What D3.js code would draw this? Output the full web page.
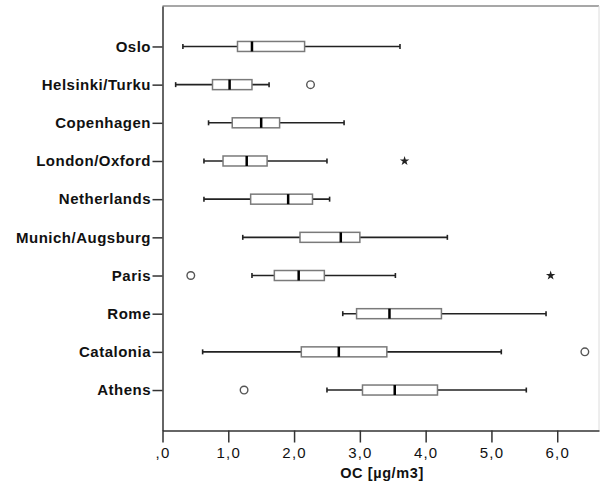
<!DOCTYPE html>
<html>
<head>
<meta charset="utf-8">
<script src="https://cdn.jsdelivr.net/npm/d3@7"></script>
<style>
  body { margin: 0; background: #fff; }
  svg { display: block; font-family: "Liberation Sans", Arial, sans-serif; }
</style>
</head>
<body>
<div id="chart"></div>
<script>
const cities = ['Oslo', 'Helsinki/Turku', 'Copenhagen', 'London/Oxford', 'Netherlands',
  'Munich/Augsburg', 'Paris', 'Rome', 'Catalonia', 'Athens'];
const whiskerLow  = [0.31, 0.20, 0.70, 0.63, 0.63, 1.22, 1.36, 2.74, 0.61, 2.50];
const q1          = [1.14, 0.76, 1.06, 0.92, 1.34, 2.09, 1.70, 2.95, 2.11, 3.04];
const medians     = [1.36, 1.02, 1.50, 1.28, 1.91, 2.71, 2.07, 3.45, 2.68, 3.53];
const q3          = [2.16, 1.36, 1.78, 1.59, 2.28, 3.00, 2.46, 4.24, 3.41, 4.18];
const whiskerHigh = [3.61, 1.62, 2.76, 2.50, 2.54, 4.33, 3.54, 5.83, 5.15, 5.53];

// outliers: circles (mild) and stars (extreme)
const circleOutliers = [['Helsinki/Turku', 2.25], ['Paris', 0.43], ['Catalonia', 6.42], ['Athens', 1.24]];
const starOutliers = [['London/Oxford', 3.68], ['Paris', 5.90]];

const tickValues = [0, 1, 2, 3, 4, 5, 6];
const tickLabels = [',0', '1,0', '2,0', '3,0', '4,0', '5,0', '6,0'];
const xTitle = 'OC [µg/m3]';

const rows = cities.map((c, i) => ({
  city: c, lo: whiskerLow[i], q1: q1[i], med: medians[i], q3: q3[i], hi: whiskerHigh[i]
}));

const W = 601, H = 497;
const plotLeft = 162.5, plotRight = 599, plotTop = 6, plotBottom = 430.5;

const x = d3.scaleLinear().domain([0, 6.635]).range([plotLeft, plotRight]);
const y = d3.scalePoint().domain(cities).range([plotTop, plotBottom]).padding(1.06);

const svg = d3.select('#chart').append('svg')
  .attr('width', W)
  .attr('height', H);

// frame top / right
svg.append('line')
  .attr('x1', plotLeft).attr('x2', plotRight).attr('y1', plotTop).attr('y2', plotTop)
  .attr('stroke', '#8a8a8a').attr('stroke-width', 1.5);
svg.append('line')
  .attr('x1', plotRight).attr('x2', plotRight).attr('y1', plotTop).attr('y2', plotBottom)
  .attr('stroke', '#dcdcdc').attr('stroke-width', 1);

// x axis
const xAxis = svg.append('g')
  .attr('transform', 'translate(0,' + plotBottom + ')')
  .call(d3.axisBottom(x).tickValues(tickValues).tickFormat((d, i) => tickLabels[i]).tickSize(12).tickSizeOuter(0).tickPadding(5));
xAxis.select('.domain').attr('stroke', '#333').attr('stroke-width', 1.5);
xAxis.selectAll('line').attr('stroke', '#333').attr('stroke-width', 1.5);
xAxis.selectAll('text').attr('font-size', 15).attr('fill', '#111')
  .attr('letter-spacing', 1.2)
  .attr('font-family', '"Liberation Sans", Arial, sans-serif');

// y axis
const yAxis = svg.append('g')
  .attr('transform', 'translate(' + plotLeft + ',0)')
  .call(d3.axisLeft(y).tickSize(10).tickSizeOuter(0).tickPadding(1.5));
yAxis.select('.domain').attr('stroke', '#333').attr('stroke-width', 1.5);
yAxis.selectAll('line').attr('stroke', '#333').attr('stroke-width', 1.5);
yAxis.selectAll('text').attr('font-size', 15).attr('font-weight', 'bold').attr('fill', '#111')
  .attr('letter-spacing', 0.5)
  .attr('font-family', '"Liberation Sans", Arial, sans-serif');

// axis title
svg.append('text')
  .attr('x', 382)
  .attr('y', 478)
  .attr('text-anchor', 'middle')
  .attr('font-size', 14.5)
  .attr('font-weight', 'bold')
  .attr('letter-spacing', 0.6)
  .attr('fill', '#111')
  .text(xTitle);

const boxH = 10, capH = 5;
const g = svg.append('g');

// whiskers
g.selectAll('.whisker')
  .data(rows)
  .enter().append('line')
  .attr('class', 'whisker')
  .attr('x1', d => x(d.lo)).attr('x2', d => x(d.hi))
  .attr('y1', d => y(d.city)).attr('y2', d => y(d.city))
  .attr('stroke', '#222').attr('stroke-width', 1.6);

['lo', 'hi'].forEach(k => {
  g.selectAll('.cap-' + k)
    .data(rows)
    .enter().append('line')
    .attr('class', 'cap-' + k)
    .attr('x1', d => x(d[k])).attr('x2', d => x(d[k]))
    .attr('y1', d => y(d.city) - capH / 2).attr('y2', d => y(d.city) + capH / 2)
    .attr('stroke', '#222').attr('stroke-width', 1.6);
});

// boxes
g.selectAll('.box')
  .data(rows)
  .enter().append('rect')
  .attr('class', 'box')
  .attr('x', d => x(d.q1))
  .attr('y', d => y(d.city) - boxH / 2)
  .attr('width', d => x(d.q3) - x(d.q1))
  .attr('height', boxH)
  .attr('fill', '#fff')
  .attr('stroke', '#7a7a7a')
  .attr('stroke-width', 1.5);

// medians
g.selectAll('.median')
  .data(rows)
  .enter().append('line')
  .attr('class', 'median')
  .attr('x1', d => x(d.med)).attr('x2', d => x(d.med))
  .attr('y1', d => y(d.city) - boxH / 2).attr('y2', d => y(d.city) + boxH / 2)
  .attr('stroke', '#000').attr('stroke-width', 2.5);

// circle outliers
g.selectAll('.outlier')
  .data(circleOutliers)
  .enter().append('circle')
  .attr('class', 'outlier')
  .attr('cx', d => x(d[1]))
  .attr('cy', d => y(d[0]))
  .attr('r', 3.8)
  .attr('fill', 'none')
  .attr('stroke', '#555')
  .attr('stroke-width', 1.4);

// extreme outliers as stars
g.selectAll('.extreme')
  .data(starOutliers)
  .enter().append('path')
  .attr('class', 'extreme')
  .attr('transform', d => 'translate(' + x(d[1]) + ',' + y(d[0]) + ')')
  .attr('d', d3.symbol().type(d3.symbolStar).size(28))
  .attr('fill', '#222');
</script>
</body>
</html>
